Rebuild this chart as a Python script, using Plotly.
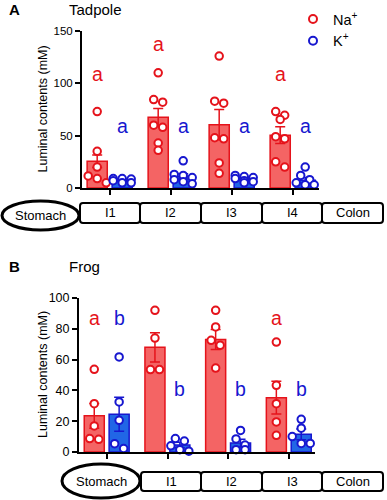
import plotly.graph_objects as go
import numpy as np

W, H = 387, 500

# ---------------- DATA ----------------
# Panel A: Tadpole
tad_segments = ["I1", "I2", "I3", "I4"]
tad_na_points = [[73, 35, 20, 11.5, 9, 5],
                 [110, 84.5, 82, 60, 58, 43, 36],
                 [126, 83, 81, 48, 47, 24, 14],
                 [73, 69.5, 65.5, 49, 47, 25, 20]]
tad_k_points = [[9, 9, 8.5, 7, 5, 5],
                [26, 13, 12, 10, 8, 6, 4],
                [12, 11, 10, 9, 7, 6, 5],
                [20, 12, 8, 5, 3, 3]]
tad_na_mean = [25.5, 67.5, 60.5, 50.4]
tad_na_sem = [6, 8.5, 14.5, 8]
tad_k_mean = [7.5, 11, 9, 7.5]
tad_k_sem = [1, 2.5, 1.2, 2.5]
tad_na_letters = ["a", "a", "a", "a"]
tad_k_letters = ["a", "a", "a", "a"]
tad_na_letter_y = [109, 138, 155, 109]
tad_k_letter_y = [59, 59, 59, 59]
tad_yticks = [0, 50, 100, 150]

# Panel B: Frog
frog_segments = ["Stomach", "I1", "I2", "I3"]
frog_na_points = [[53.7, 31.4, 16.9, 8.2, 8.7],
                  [92, 74, 53.5, 53.5],
                  [92, 81.2, 72.5, 69.3, 54.5],
                  [71.4, 43.3, 31.4, 19.5, 10.8]]
frog_k_points = [[61.7, 32.5, 20.6, 5.4, 2.2],
                 [7.1, 8.7, 4, 0.5, 1.5],
                 [14, 8.5, 4.5, 1.5, 1.5],
                 [21.2, 15.5, 10, 5.6, 5.6]]
frog_na_mean = [23.5, 68, 73, 35.3]
frog_na_sem = [8, 9.5, 6.5, 10.7]
frog_k_mean = [24.5, 4.5, 5.8, 11.5]
frog_k_sem = [11, 1.8, 2.5, 3.5]
frog_na_letters = ["a", "b", "b", "a"]
frog_k_letters = ["b", "b", "b", "b"]
frog_na_letter_y = [87, 113.6, 113.6, 87]
frog_k_letter_y = [87, 41, 41, 41]
frog_yticks = [0, 20, 40, 60, 80, 100]

gut_a = ["Stomach", "I1", "I2", "I3", "I4", "Colon"]
gut_b = ["Stomach", "I1", "I2", "I3", "Colon"]

# ---------------- STYLE ----------------
RED = "#E5131B"
RED_FILL = "#F46464"
BLUE = "#1717CF"
BLUE_FILL = "#2166E6"
FONT = "Arial, Liberation Sans, sans-serif"


def px_x(p):
    return p / W


def px_y(p):
    return 1 - p / H


def swarm(values, y_per_px, x_per_px, diam=7.0, step=9.0, max_row=3):
    """Prism-like row placement: returns x offsets (in axis units)."""
    order = sorted(range(len(values)), key=lambda i: -values[i])
    offs = [0.0] * len(values)
    rows = []
    for i in order:
        if rows and (values[rows[-1][0]] - values[i]) / y_per_px < diam and len(rows[-1]) < max_row:
            rows[-1].append(i)
        else:
            rows.append([i])
    for row in rows:
        k = len(row)
        for j, i in enumerate(row):
            offs[i] = (j - (k - 1) / 2) * step * x_per_px
    return offs


fig = go.Figure()

panels = [
    dict(xa="x", ya="y", xd=(82, 319), yd=(31, 188), tick0=110, tickstep=61, yr=(0, 150),
         yticks=tad_yticks, na_pts=tad_na_points, k_pts=tad_k_points,
         na_mean=tad_na_mean, na_sem=tad_na_sem, k_mean=tad_k_mean, k_sem=tad_k_sem,
         na_let=tad_na_letters, k_let=tad_k_letters, na_ly=tad_na_letter_y, k_ly=tad_k_letter_y,
         tickfont=11.5),
    dict(xa="x2", ya="y2", xd=(79, 315), yd=(298, 452), tick0=107, tickstep=60.7, yr=(0, 100),
         yticks=frog_yticks, na_pts=frog_na_points, k_pts=frog_k_points,
         na_mean=frog_na_mean, na_sem=frog_na_sem, k_mean=frog_k_mean, k_sem=frog_k_sem,
         na_let=frog_na_letters, k_let=frog_k_letters, na_ly=frog_na_letter_y, k_ly=frog_k_letter_y,
         tickfont=12.5),
]

annotations = []
BAR_W = 0.33
NA_OFF = -0.21
K_OFF = 0.20

for p in panels:
    n = len(p["na_mean"])
    idx = np.arange(n)
    x_per_px = 1.0 / p["tickstep"]
    y_per_px = (p["yr"][1] - p["yr"][0]) / (p["yd"][1] - p["yd"][0])
    for off, mean, sem, fill, line in [
        (NA_OFF, p["na_mean"], p["na_sem"], RED_FILL, RED),
        (K_OFF, p["k_mean"], p["k_sem"], BLUE_FILL, BLUE),
    ]:
        fig.add_trace(go.Bar(
            x=idx + off, y=mean, width=BAR_W, xaxis=p["xa"], yaxis=p["ya"],
            marker=dict(color=fill, line=dict(color=line, width=1.5)),
            error_y=dict(type="data", array=sem, color=line, thickness=1.5, width=5),
            showlegend=False, hoverinfo="skip"))
    for off, pts, col in [(NA_OFF, p["na_pts"], RED), (K_OFF, p["k_pts"], BLUE)]:
        xs, ys = [], []
        for i, vals in enumerate(pts):
            offs = swarm(vals, y_per_px, x_per_px)
            xs += [i + off + o for o in offs]
            ys += list(vals)
        fig.add_trace(go.Scatter(
            x=xs, y=ys, mode="markers", xaxis=p["xa"], yaxis=p["ya"], cliponaxis=False,
            marker=dict(symbol="circle", size=7.5, color="white", line=dict(color=col, width=2)),
            showlegend=False, hoverinfo="skip"))
    axn = "" if p["xa"] == "x" else "2"
    for off, lets, ly, col in [(NA_OFF, p["na_let"], p["na_ly"], RED), (K_OFF, p["k_let"], p["k_ly"], BLUE)]:
        for i, (t, yv) in enumerate(zip(lets, ly)):
            annotations.append(dict(x=i + off, y=yv, xref="x" + axn, yref="y" + axn, text=t,
                                    showarrow=False, font=dict(size=19.5, color=col, family=FONT),
                                    xanchor="center", yanchor="middle"))
    xl = -(p["tick0"] - p["xd"][0]) / p["tickstep"]
    xr = xl + (p["xd"][1] - p["xd"][0]) / p["tickstep"]
    common_x = dict(domain=[px_x(p["xd"][0]), px_x(p["xd"][1])], range=[xl, xr],
                    showline=True, linewidth=2, linecolor="black", ticks="outside",
                    tickvals=list(range(n)), ticklen=5, tickwidth=2, tickcolor="black",
                    showticklabels=False, showgrid=False, zeroline=False, fixedrange=True,
                    automargin=False)
    common_y = dict(domain=[px_y(p["yd"][1]), px_y(p["yd"][0])], range=list(p["yr"]),
                    showline=True, linewidth=2, linecolor="black", ticks="outside",
                    tickvals=p["yticks"], ticklen=5, tickwidth=2, tickcolor="black",
                    tickfont=dict(size=p["tickfont"], color="black", family=FONT),
                    showgrid=False, zeroline=False, fixedrange=True, automargin=False)
    if axn == "":
        fig.update_layout(xaxis=dict(anchor="y", **common_x), yaxis=dict(anchor="x", **common_y))
    else:
        fig.update_layout(xaxis2=dict(anchor="y2", **common_x), yaxis2=dict(anchor="x2", **common_y))
    # y-axis title
    annotations.append(dict(x=px_x(43), y=px_y((p["yd"][0] + p["yd"][1]) / 2), xref="paper", yref="paper",
                            text="Luminal contents (mM)", textangle=-90, showarrow=False,
                            font=dict(size=12.5, color="black", family=FONT),
                            xanchor="center", yanchor="middle"))

# Panel titles
for lab, name, yy in [("A", "Tadpole", 9), ("B", "Frog", 266)]:
    annotations.append(dict(x=px_x(7), y=px_y(yy), xref="paper", yref="paper", text="<b>%s</b>" % lab,
                            showarrow=False, xanchor="left", yanchor="middle",
                            font=dict(size=15, color="black", family=FONT)))
    annotations.append(dict(x=px_x(67), y=px_y(yy), xref="paper", yref="paper", text=name,
                            showarrow=False, xanchor="left", yanchor="middle",
                            font=dict(size=15, color="black", family=FONT)))

# Gut diagrams
shapes = []


def rrect(x0, y0, x1, y1, r=3):
    def P(x, y):
        return "%f,%f" % (px_x(x), px_y(y))
    return ("M" + P(x0 + r, y0) + " L" + P(x1 - r, y0) + " Q" + P(x1, y0) + " " + P(x1, y0 + r) +
            " L" + P(x1, y1 - r) + " Q" + P(x1, y1) + " " + P(x1 - r, y1) +
            " L" + P(x0 + r, y1) + " Q" + P(x0, y1) + " " + P(x0, y1 - r) +
            " L" + P(x0, y0 + r) + " Q" + P(x0, y0) + " " + P(x0 + r, y0) + " Z")


def gut(labels, ell, rect_edges, ry):
    ex0, ey0, ex1, ey1 = ell
    shapes.append(dict(type="circle", xref="paper", yref="paper", x0=px_x(ex0), x1=px_x(ex1),
                       y0=px_y(ey1), y1=px_y(ey0), line=dict(color="black", width=3),
                       fillcolor="white", layer="above"))
    annotations.append(dict(x=px_x((ex0 + ex1) / 2), y=px_y((ey0 + ey1) / 2), xref="paper", yref="paper",
                            text=labels[0], showarrow=False, xanchor="center", yanchor="middle",
                            font=dict(size=13, color="black", family=FONT)))
    for i, lab in enumerate(labels[1:]):
        x0, x1 = rect_edges[i], rect_edges[i + 1]
        shapes.append(dict(type="path", xref="paper", yref="paper", path=rrect(x0, ry[0], x1, ry[1]),
                           line=dict(color="black", width=2), fillcolor="white", layer="above"))
        annotations.append(dict(x=px_x((x0 + x1) / 2), y=px_y((ry[0] + ry[1]) / 2), xref="paper",
                                yref="paper", text=lab, showarrow=False, xanchor="center",
                                yanchor="middle", font=dict(size=13, color="black", family=FONT)))


gut(gut_a, (2, 201, 79, 230), [80, 140, 201, 262, 322, 383], (203, 223))
gut(gut_b, (62, 464, 140, 498), [141, 201, 262, 322, 383], (472, 491))

# Legend traces
for name, col in [("Na<sup>+</sup>", RED), ("K<sup>+</sup>", BLUE)]:
    fig.add_trace(go.Scatter(x=[None], y=[None], mode="markers", name=name,
                             marker=dict(symbol="circle", size=8, color="white", line=dict(color=col, width=2)),
                             xaxis="x", yaxis="y", showlegend=True))

fig.update_layout(
    width=W, height=H, margin=dict(l=0, r=0, t=0, b=0, pad=0, autoexpand=False),
    paper_bgcolor="white", plot_bgcolor="white",
    barmode="overlay",
    annotations=annotations, shapes=shapes,
    legend=dict(x=px_x(293), y=px_y(3), xanchor="left", yanchor="top",
                font=dict(size=14.5, color="black", family=FONT), bgcolor="rgba(0,0,0,0)",
                itemwidth=30, tracegroupgap=0),
    font=dict(family=FONT, color="black"),
)

fig.write_html("out.html", post_script="document.body.style.margin='0';",
               config={"displayModeBar": False})
